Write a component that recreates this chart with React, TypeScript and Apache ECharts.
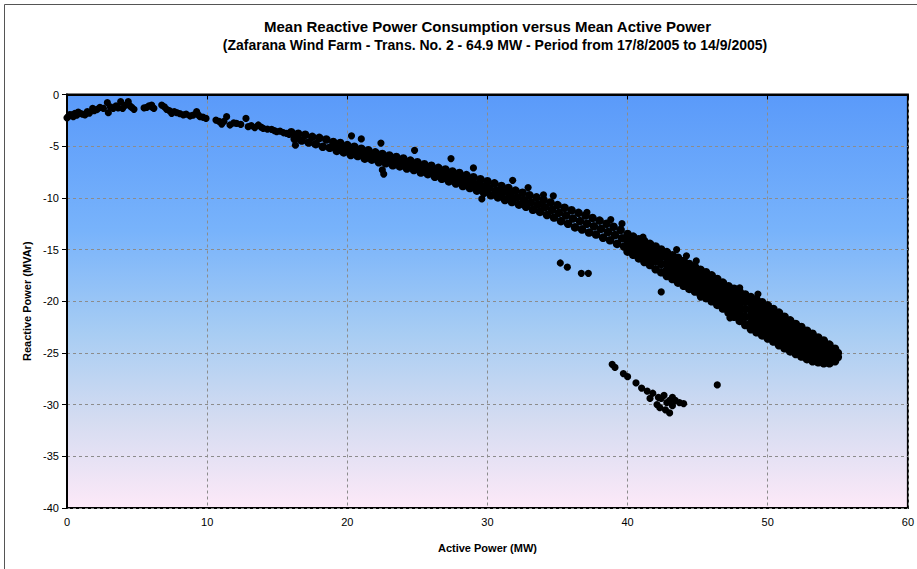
import React, { useEffect, useRef } from "react";
import * as echarts from "echarts";

const titleLines = [
  "Mean Reactive Power Consumption versus Mean Active Power",
  "(Zafarana Wind Farm - Trans. No. 2 - 64.9 MW - Period from 17/8/2005 to 14/9/2005)",
];
const xAxisName = "Active Power (MW)";
const yAxisName = "Reactive Power (MVAr)";
const xTicks = { min: 0, max: 60, interval: 10 };
const yTicks = { min: -40, max: 0, interval: 5 };

// low power part of the curve (0 - 16 MW)
const lowPower: number[][] = [
  [0.0, -2.25], [0.09, -2.15], [0.2, -1.95], [0.33, -1.98], [0.45, -2.15], [0.57, -1.82], [0.7, -2.0],
  [0.8, -1.7], [0.93, -1.82], [1.1, -1.9], [1.28, -1.98], [1.45, -1.66], [1.6, -1.8], [1.83, -1.34],
  [1.95, -1.55], [2.15, -1.45], [2.35, -1.24], [2.6, -1.35], [2.88, -0.79], [2.95, -1.76], [3.1, -1.2],
  [3.3, -1.34], [3.5, -1.11], [3.65, -1.3], [3.83, -0.7], [3.97, -1.34], [4.15, -1.05], [4.37, -0.7],
  [4.49, -1.11], [4.62, -1.25], [4.78, -1.43], [5.5, -1.3], [5.69, -1.24], [5.85, -1.1], [6.04, -1.02],
  [6.1, -1.25], [6.2, -1.34], [6.76, -1.02], [6.95, -1.2], [7.11, -1.43], [7.3, -1.55], [7.47, -1.82],
  [7.65, -1.65], [7.83, -1.76], [8.05, -1.85], [8.3, -1.98], [8.5, -1.9], [8.78, -2.08], [9.0, -2.0],
  [9.25, -1.66], [9.35, -1.95], [9.49, -2.15], [9.7, -2.2], [9.92, -2.31], [10.63, -2.47], [10.85, -2.6],
  [11.04, -2.86], [11.2, -2.6], [11.39, -2.15], [11.63, -2.95], [11.9, -2.75], [12.1, -2.79], [12.4, -2.9],
  [12.77, -2.31], [12.93, -3.11], [13.15, -3.0], [13.4, -3.2], [13.65, -2.95], [13.85, -3.15], [14.0, -3.27],
  [14.3, -3.35], [14.6, -3.37], [14.8, -3.5], [14.96, -3.6], [15.2, -3.55], [15.45, -3.7], [15.67, -3.76],
  [15.85, -3.85],
];

// main band 16 - 28 MW
const band16to28: number[][] = [
  [16.0, -3.65], [16.25, -4.3], [16.5, -3.8], [16.75, -4.45], [17.0, -3.9], [17.25, -4.65], [17.5, -4.1],
  [17.75, -4.8], [18.0, -4.2], [18.25, -5.05], [18.5, -4.35], [18.75, -5.15], [19.0, -4.6], [19.1, -5.0],
  [19.25, -5.45], [19.5, -4.7], [19.6, -5.15], [19.75, -5.6], [20.0, -4.9], [20.1, -5.35], [20.25, -5.85],
  [20.5, -5.05], [20.6, -5.5], [20.75, -5.95], [21.0, -5.25], [21.1, -5.7], [21.25, -6.2], [21.5, -5.4],
  [21.6, -5.85], [21.75, -6.3], [22.0, -5.6], [22.1, -6.05], [22.25, -6.55], [22.5, -5.75], [22.6, -6.2],
  [22.75, -6.65], [23.0, -5.9], [23.1, -6.35], [23.25, -6.85], [23.5, -6.05], [23.6, -6.5], [23.75, -6.95],
  [24.0, -6.2], [24.1, -6.65], [24.25, -7.15], [24.5, -6.4], [24.6, -6.85], [24.75, -7.3], [25.0, -6.55],
  [25.1, -7.05], [25.25, -7.55], [25.5, -6.75], [25.6, -7.2], [25.75, -7.7], [26.0, -6.9], [26.1, -7.4],
  [26.25, -7.95], [26.5, -7.1], [26.6, -7.6], [26.75, -8.15], [27.0, -7.25], [27.1, -7.8], [27.25, -8.4],
  [27.5, -7.45], [27.6, -8.0], [27.75, -8.6],
];

// main band 28 - 40 MW
const band28to40: number[][] = [
  [28.0, -7.6], [28.1, -8.2], [28.25, -8.85], [28.5, -7.8], [28.6, -8.4], [28.75, -9.05],
  [29.0, -8.0], [29.1, -8.65], [29.25, -9.3], [29.5, -8.2], [29.6, -8.85], [29.75, -9.5],
  [30.0, -8.4], [30.1, -9.05], [30.25, -9.75], [30.5, -8.6], [30.6, -9.3], [30.75, -9.95],
  [31.0, -8.85], [31.1, -9.5], [31.25, -10.2], [31.5, -9.05], [31.6, -9.7], [31.75, -10.4],
  [32.0, -9.3], [32.1, -9.95], [32.25, -10.65], [32.5, -9.5], [32.6, -10.2], [32.75, -10.85],
  [33.0, -9.75], [33.1, -10.45], [33.25, -11.15], [33.5, -9.95], [33.6, -10.65], [33.75, -11.35],
  [34.0, -10.2], [34.1, -10.9], [34.25, -11.65], [34.5, -10.45], [34.6, -11.15], [34.75, -11.9],
  [35.0, -10.7], [35.1, -11.45], [35.25, -12.25], [35.5, -10.95], [35.6, -11.7], [35.75, -12.5],
  [36.0, -11.2], [36.1, -12.0], [36.25, -12.85], [36.5, -11.45], [36.6, -12.25], [36.75, -13.05],
  [37.0, -11.7], [37.1, -12.5], [37.25, -13.35], [37.5, -11.95], [37.6, -12.75], [37.75, -13.55],
  [38.0, -12.2], [38.1, -13.0], [38.25, -13.85], [38.5, -12.5], [38.6, -13.3], [38.75, -14.1],
  [39.0, -12.8], [39.1, -13.6], [39.25, -14.45], [39.5, -13.1], [39.6, -13.9], [39.75, -14.7],
];

// wide band 40 - 47 MW: [active power, reactive power readings at that column]
const band40to47: [number, number[]][] = [
  [40.0, [-13.5, -14.1, -14.6, -15.2]],
  [40.4, [-13.75, -14.3, -14.9, -15.5]],
  [40.8, [-14.0, -14.6, -15.2, -15.85]],
  [41.2, [-14.2, -14.85, -15.5, -16.2]],
  [41.6, [-14.45, -15.1, -15.8, -16.5]],
  [42.0, [-14.7, -15.4, -16.1, -16.9]],
  [42.4, [-15.0, -15.7, -16.4, -17.2]],
  [42.8, [-15.25, -15.8, -16.4, -17.0, -17.55]],
  [43.2, [-15.55, -16.1, -16.7, -17.3, -17.85]],
  [43.6, [-15.8, -16.4, -17.0, -17.6, -18.2]],
  [44.0, [-16.1, -16.7, -17.3, -17.9, -18.5]],
  [44.4, [-16.4, -17.0, -17.6, -18.2, -18.8]],
  [44.8, [-16.65, -17.25, -17.85, -18.45, -19.05]],
  [45.2, [-16.95, -17.55, -18.15, -18.75, -19.35]],
  [45.6, [-17.2, -17.8, -18.4, -19.05, -19.7]],
  [46.0, [-17.5, -18.1, -18.75, -19.4, -20.0]],
  [46.4, [-17.85, -18.5, -19.1, -19.75, -20.35]],
  [46.8, [-18.2, -18.8, -19.45, -20.1, -20.7]],
];

// dense end of the band 47 - 55 MW
const band47to55: [number, number[]][] = [
  [47.2, [-18.55, -19.2, -19.85, -20.5, -21.1]],
  [47.6, [-18.8, -19.45, -20.1, -20.8, -21.5]],
  [48.0, [-19.1, -19.8, -20.5, -21.2, -21.9]],
  [48.4, [-19.35, -20.0, -20.75, -21.5, -22.3]],
  [48.8, [-19.6, -20.2, -20.85, -21.45, -22.1, -22.7]],
  [49.2, [-19.85, -20.45, -21.1, -21.75, -22.4, -23.0]],
  [49.6, [-20.1, -20.75, -21.4, -22.0, -22.65, -23.3]],
  [50.0, [-20.4, -21.05, -21.7, -22.3, -22.95, -23.6]],
  [50.4, [-20.75, -21.4, -22.0, -22.65, -23.25, -23.9]],
  [50.8, [-21.1, -21.75, -22.35, -23.0, -23.6, -24.25]],
  [51.2, [-21.5, -22.1, -22.7, -23.3, -23.95, -24.55]],
  [51.6, [-21.85, -22.45, -23.05, -23.65, -24.25, -24.85]],
  [52.0, [-22.2, -22.8, -23.4, -23.95, -24.5, -25.1]],
  [52.4, [-22.5, -23.1, -23.7, -24.25, -24.8, -25.35]],
  [52.8, [-22.85, -23.4, -23.95, -24.5, -25.05, -25.6]],
  [53.2, [-23.15, -23.7, -24.25, -24.75, -25.3, -25.8]],
  [53.6, [-23.5, -24.0, -24.5, -25.0, -25.45, -25.9]],
  [54.0, [-23.8, -24.25, -24.7, -25.15, -25.6, -26.0]],
  [54.4, [-24.2, -24.65, -25.1, -25.55, -26.0]],
  [54.8, [-24.6, -25.0, -25.4, -25.8]],
  [55.0, [-25.0, -25.4]],
];

// isolated points off the main band
const outliers: number[][] = [
  [16.3, -4.9], [20.3, -4.0], [21.0, -4.3], [22.4, -4.7], [22.5, -7.3], [22.6, -7.7], [24.8, -5.4],
  [27.4, -6.2], [29.0, -7.1], [29.6, -10.1], [31.8, -8.3], [32.9, -9.0], [34.0, -9.7], [34.7, -9.8],
  [37.1, -11.4], [38.8, -12.1], [39.6, -12.5], [41.1, -13.8], [43.5, -15.0], [44.2, -15.6], [44.9, -16.1],
  [48.0, -18.7], [49.3, -19.3], [42.4, -19.1], [46.4, -28.1], [35.2, -16.3], [35.7, -16.7], [36.7, -17.3],
  [37.2, -17.3], [45.2, -19.6], [47.3, -21.6],
];

// lower branch around 39 - 44 MW
const lowerBranch: number[][] = [
  [38.9, -26.1], [39.1, -26.4], [39.7, -27.0], [40.0, -27.3], [40.6, -27.9], [41.0, -28.4], [41.4, -28.7],
  [41.6, -29.4], [41.8, -28.9], [42.2, -29.3], [42.4, -29.4], [42.1, -30.0], [42.3, -30.3], [42.7, -30.5],
  [43.0, -30.8], [43.2, -29.3], [43.4, -29.6], [43.7, -29.8], [44.0, -29.9], [42.8, -29.8], [43.2, -30.1],
  [42.6, -29.1], [43.0, -29.6],
];

const FONT = "'Liberation Sans', Arial, sans-serif";

export default function App() {
  const ref = useRef<HTMLDivElement>(null);
  useEffect(() => {
    if (!ref.current) return;
    const chart = echarts.init(ref.current, undefined, { renderer: "svg" });
    const columns = (cols: [number, number[]][]) => cols.flatMap(([x, ys]) => ys.map((y) => [x, y]));
    const bandPoints = [...band16to28, ...band28to40, ...columns(band40to47), ...columns(band47to55)];
    const loosePoints = [...lowPower, ...outliers, ...lowerBranch];
    const dash = { color: "#8c8c8c", width: 1, type: [3, 3] as any };
    chart.setOption({
      animation: false,
      backgroundColor: "#ffffff",
      graphic: [
        {
          type: "rect",
          shape: { x: 4.5, y: 4.5, width: 1000, height: 1000 },
          style: { fill: "none", stroke: "#555", lineWidth: 1 },
          silent: true,
        },
        {
          type: "text",
          x: 487.5,
          y: 26,
          style: { text: titleLines[0], font: `bold 15px ${FONT}`, fill: "#000", textAlign: "center", textVerticalAlign: "middle" },
        },
        {
          type: "text",
          x: 495,
          y: 45,
          style: { text: titleLines[1], font: `bold 14px ${FONT}`, fill: "#000", textAlign: "center", textVerticalAlign: "middle" },
        },
      ],
      grid: {
        left: 67,
        right: 9,
        top: 94.5,
        bottom: 61,
        show: true,
        borderColor: "#000",
        borderWidth: 2,
        backgroundColor: {
          type: "linear",
          x: 0,
          y: 0,
          x2: 0,
          y2: 1,
          colorStops: [
            { offset: 0, color: "#5a9afa" },
            { offset: 0.33, color: "#78b3fb" },
            { offset: 0.58, color: "#a8cdf3" },
            { offset: 0.79, color: "#d5dcf1" },
            { offset: 1, color: "#fde9f8" },
          ],
        },
      },
      xAxis: {
        type: "value",
        min: xTicks.min,
        max: xTicks.max,
        interval: xTicks.interval,
        name: xAxisName,
        nameLocation: "middle",
        nameGap: 34,
        nameTextStyle: { fontFamily: FONT, fontWeight: "bold", fontSize: 11, color: "#000" },
        axisLine: { show: true, lineStyle: { color: "#000", width: 2 } },
        axisTick: { show: true, length: 5, lineStyle: { color: "#000" } },
        axisLabel: { fontFamily: FONT, fontSize: 11, color: "#000", margin: 8 },
        splitLine: { show: true, lineStyle: dash },
      },
      yAxis: {
        type: "value",
        min: yTicks.min,
        max: yTicks.max,
        interval: yTicks.interval,
        name: yAxisName,
        nameLocation: "middle",
        nameGap: 33,
        nameTextStyle: { fontFamily: FONT, fontWeight: "bold", fontSize: 11, color: "#000" },
        axisLine: { show: true, lineStyle: { color: "#000", width: 2 } },
        axisTick: { show: true, length: 5, lineStyle: { color: "#000" } },
        axisLabel: { fontFamily: FONT, fontSize: 11, color: "#000", margin: 8 },
        splitLine: { show: true, lineStyle: dash },
      },
      series: [
        {
          type: "scatter",
          name: "band",
          data: bandPoints,
          symbol: "circle",
          symbolSize: 8.6,
          itemStyle: { color: "#000", opacity: 1 },
          clip: false,
        },
        {
          type: "scatter",
          name: "loose",
          data: loosePoints,
          symbol: "circle",
          symbolSize: 7.2,
          itemStyle: { color: "#000", opacity: 1 },
          clip: false,
        },
      ],
    });
    return () => chart.dispose();
  }, []);
  return (
    <div
      ref={ref}
      style={{ position: "absolute", left: 0, top: 0, width: 917, height: 569 }}
    />
  );
}
